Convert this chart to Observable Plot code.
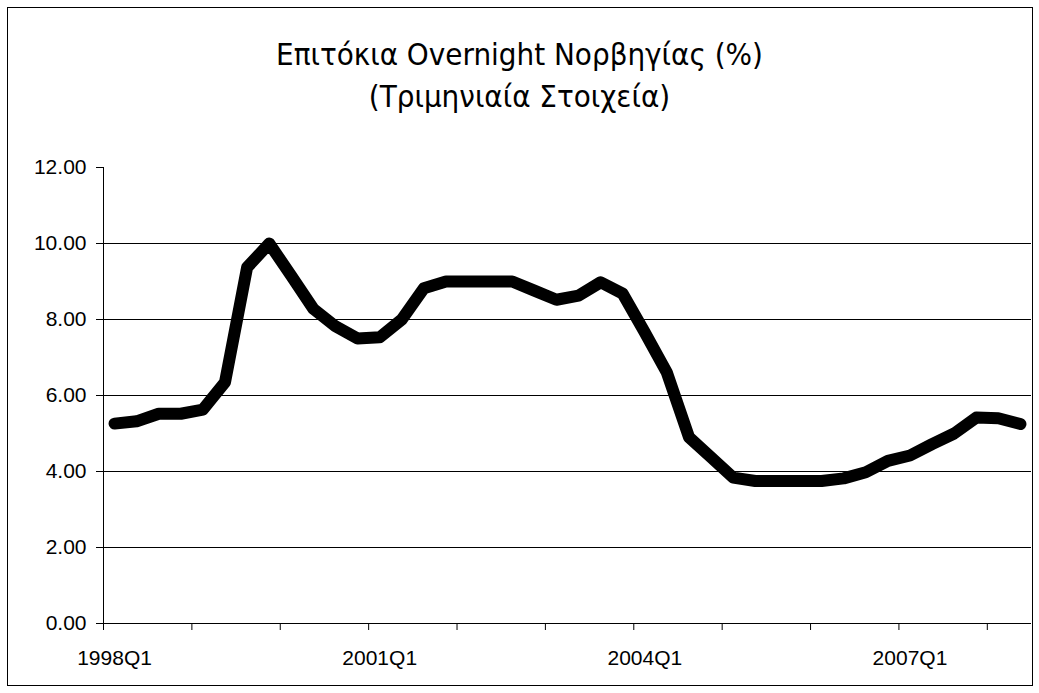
<!DOCTYPE html>
<html>
<head>
<meta charset="utf-8">
<script src="https://cdn.jsdelivr.net/npm/d3@7"></script>
<script src="https://cdn.jsdelivr.net/npm/@observablehq/plot@0.6"></script>
<style>
  html, body { margin: 0; padding: 0; background: #fff; }
  #wrap { position: relative; width: 1039px; height: 693px; overflow: hidden; }
  #frame { position: absolute; left: 7px; top: 7px; width: 1024px; height: 677px; border: 1px solid #000; pointer-events: none; }
  #title { height: 140px; box-sizing: border-box; padding-top: 33px; text-align: center;
           font-family: "DejaVu Sans Condensed", "DejaVu Sans", sans-serif; font-size: 31px; line-height: 42px; color: #000; }
  #chart svg { display: block; }
</style>
</head>
<body>
<div id="wrap">
  <div id="title">Επιτόκια Overnight Νορβηγίας (%)<br>(Τριμηνιαία Στοιχεία)</div>
  <div id="chart"></div>
  <div id="frame"></div>
</div>
<script>
const quarters = [];
for (let y = 1998; y <= 2008; y++) for (let q = 1; q <= 4; q++) quarters.push(y + "Q" + q);
quarters.length = 42; // 1998Q1 .. 2008Q2

const rates = [
  5.26, 5.32, 5.52, 5.52, 5.63, 6.35, 9.37, 10.0, 9.15, 8.28,
  7.82, 7.50, 7.53, 8.00, 8.82, 9.00, 9.00, 9.00, 9.00, 8.76,
  8.52, 8.63, 8.98, 8.68, 7.66, 6.60, 4.90, 4.37, 3.84, 3.75,
  3.75, 3.75, 3.75, 3.82, 3.98, 4.28, 4.42, 4.72, 5.00, 5.42,
  5.40, 5.25
];

const yTicks = [0, 2, 4, 6, 8, 10, 12];
const gridValues = [2, 4, 6, 8, 10];
const labelQuarters = ["1998Q1", "2001Q1", "2004Q1", "2007Q1"];

const data = rates.map((v, i) => ({i: i + 0.5, q: quarters[i], v}));
const boundaryTicks = d3.range(0, quarters.length + 1, 4);
const labelPos = labelQuarters.map(q => quarters.indexOf(q) + 0.5);

const font = "'Liberation Sans', Arial, sans-serif";

const chart = Plot.plot({
  width: 1039,
  height: 553,
  marginTop: 27,
  marginBottom: 70,
  marginLeft: 103,
  marginRight: 8,
  style: {fontFamily: font, fontSize: "21px", color: "#000", background: "transparent"},
  x: {type: "linear", domain: [0, quarters.length]},
  y: {domain: [0, 12]},
  marks: [
    Plot.ruleY(gridValues, {stroke: "#000", strokeWidth: 1}),
    Plot.axisY({ticks: yTicks, tickFormat: d => d.toFixed(2), tickSize: 7, tickPadding: 10, label: null, stroke: "#000", strokeOpacity: 1, fontSize: 21}),
    Plot.axisX({ticks: boundaryTicks, tickFormat: () => "", tickSize: 7, label: null, stroke: "#000", strokeOpacity: 1}),
    Plot.axisX({ticks: labelPos, tickFormat: d => quarters[Math.floor(d)], tickSize: 0, tickPadding: 27, label: null, fontSize: 21}),
    Plot.ruleX([0], {stroke: "#000"}),
    Plot.ruleY([0], {stroke: "#000"}),
    Plot.line(data, {x: "i", y: "v", stroke: "#000", strokeWidth: 12, strokeLinejoin: "round", strokeLinecap: "round"})
  ]
});
document.getElementById("chart").appendChild(chart);
</script>
</body>
</html>
